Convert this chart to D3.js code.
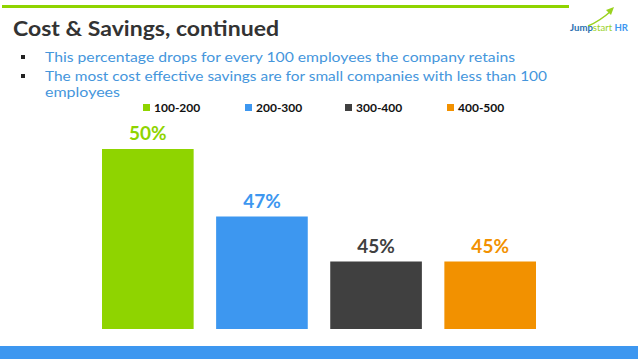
<!DOCTYPE html>
<html>
<head>
<meta charset="utf-8">
<script src="https://cdn.jsdelivr.net/npm/d3@7"></script>
<style>
  body { margin: 0; background: #fff; }
  svg { display: block; font-family: "Lato", "Open Sans", sans-serif; }
</style>
</head>
<body>
<div id="chart"></div>
<script>
// data
const categories = ["100-200", "200-300", "300-400", "400-500"];
const values = [50, 47, 45, 45];
const labels = ["50%", "47%", "45%", "45%"];
const colors = ["#8fd400", "#3d97f0", "#404040", "#f29100"];
const bullets = [
  "This percentage drops for every 100 employees the company retains",
  "The most cost effective savings are for small companies with less than 100",
  "employees"
];

const W = 638, H = 359;
const svg = d3.select("#chart").append("svg")
  .attr("width", W)
  .attr("height", H);

// top green rule and bottom blue strip
svg.append("rect").attr("x", 2).attr("y", 5).attr("width", 567).attr("height", 3).attr("fill", "#8fd400");
svg.append("rect").attr("x", 0).attr("y", 346).attr("width", W).attr("height", 13).attr("fill", "#3d97f0");

// title
svg.append("text")
  .attr("x", 13).attr("y", 36)
  .attr("font-size", 21).attr("font-weight", "bold")
  .attr("fill", "#333")
  .attr("textLength", 266).attr("lengthAdjust", "spacingAndGlyphs")
  .text("Cost & Savings, continued");

// logo
const logo = svg.append("g");
logo.append("path")
  .attr("d", "M588,26 Q600,21 611,11")
  .attr("fill", "none").attr("stroke", "#9ad21e").attr("stroke-width", 1.5);
logo.append("path").attr("d", "M614,7 L606,10 L611,15 Z").attr("fill", "#9ad21e");
const lt = logo.append("text").attr("x", 570).attr("y", 31).attr("font-size", 8.5).attr("font-weight", "bold")
  .attr("textLength", 58).attr("lengthAdjust", "spacingAndGlyphs");
lt.append("tspan").attr("fill", "#2a6fb0").text("Jump");
lt.append("tspan").attr("fill", "#9ad21e").attr("font-weight", "normal").text("start");
lt.append("tspan").attr("fill", "#3d97f0").text(" HR");

// bullets
const bulletY = [62, 81, 97];
const bulletW = [470, 502, 75];
bullets.forEach((t, i) => {
  if (i < 2) {
    svg.append("rect").attr("x", 21).attr("y", bulletY[i] - 7).attr("width", 4).attr("height", 4).attr("fill", "#222");
  }
  svg.append("text")
    .attr("x", 45).attr("y", bulletY[i])
    .attr("font-size", 13)
    .attr("fill", "#4596dc")
    .attr("textLength", bulletW[i]).attr("lengthAdjust", "spacingAndGlyphs")
    .text(t);
});

// scales
const x = d3.scaleBand()
  .domain(categories)
  .range([102, 536])
  .paddingInner(0.197)
  .paddingOuter(0);

const y = d3.scaleLinear()
  .domain([42, 50])
  .range([329, 149]);

// bars
svg.selectAll(".bar")
  .data(values)
  .enter()
  .append("rect")
  .attr("class", "bar")
  .attr("x", (d, i) => x(categories[i]))
  .attr("y", d => y(d))
  .attr("width", x.bandwidth())
  .attr("height", d => y(42) - y(d))
  .attr("fill", (d, i) => colors[i]);

// value labels
svg.selectAll(".labels")
  .data(values)
  .enter()
  .append("text")
  .attr("class", "labels")
  .attr("x", (d, i) => x(categories[i]) + x.bandwidth() / 2)
  .attr("y", d => y(d) - 9)
  .attr("text-anchor", "middle")
  .attr("font-size", 19)
  .attr("font-weight", "bold")
  .attr("fill", (d, i) => colors[i])
  .text((d, i) => labels[i]);

// legend
const legendX = [143, 245, 345, 447];
const legend = svg.selectAll(".legend")
  .data(categories)
  .enter()
  .append("g")
  .attr("class", "legend")
  .attr("transform", (d, i) => `translate(${legendX[i]}, 104)`);
legend.append("rect")
  .attr("width", 7).attr("height", 7)
  .attr("fill", (d, i) => colors[i]);
legend.append("text")
  .attr("x", 11).attr("y", 7.5)
  .attr("font-size", 12).attr("font-weight", "bold")
  .attr("fill", "#111")
  .text(d => d);
</script>
</body>
</html>
